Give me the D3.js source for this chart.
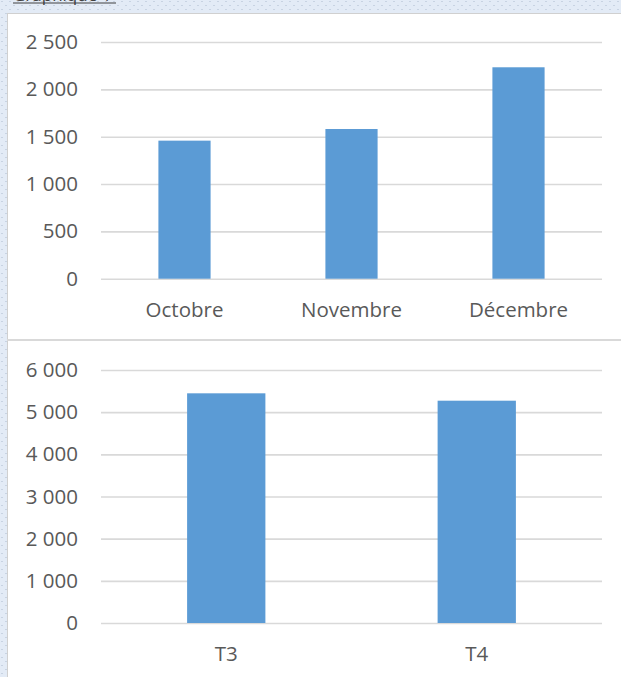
<!DOCTYPE html>
<html>
<head>
<meta charset="utf-8">
<script src="https://cdn.jsdelivr.net/npm/d3@7"></script>
<style>
  html, body { margin: 0; padding: 0; background: #fff; }
  svg { display: block; }
  text { font-family: "Open Sans", "Noto Sans", sans-serif; }
</style>
</head>
<body>
<svg id="chart" width="621" height="677"></svg>
<script>
// ---- Data ----
const monthCategories = ["Octobre", "Novembre", "Décembre"];
const monthValues = [1458, 1581, 2233];
const monthTicks = [0, 500, 1000, 1500, 2000, 2500];

const quarterCategories = ["T3", "T4"];
const quarterValues = [5447, 5272];
const quarterTicks = [0, 1000, 2000, 3000, 4000, 5000, 6000];

const headerText = "Graphique 1";

// ---- Setup ----
const W = 621, H = 677;
const svg = d3.select("#chart");
const locale = d3.formatLocale({ decimal: ",", thousands: " ", grouping: [3], currency: ["", " €"] });
const fmt = locale.format(",d");

// Background dotted pattern
const defs = svg.append("defs");
const pat = defs.append("pattern")
  .attr("id", "dots").attr("width", 8).attr("height", 8)
  .attr("patternUnits", "userSpaceOnUse");
pat.append("rect").attr("width", 8).attr("height", 8).attr("fill", "#e3ebf6");
pat.append("rect").attr("x", 1).attr("y", 1).attr("width", 2).attr("height", 1).attr("fill", "#c8d3e2");
pat.append("rect").attr("x", 5).attr("y", 5).attr("width", 2).attr("height", 1).attr("fill", "#c8d3e2");
svg.append("rect").attr("width", W).attr("height", H).attr("fill", "url(#dots)");

// Header text (cut off at top)
svg.append("text")
  .attr("x", 13).attr("y", 1)
  .attr("font-size", 17)
  .attr("fill", "#404040")
  .text(headerText);
svg.append("line")
  .attr("x1", 13).attr("x2", 116).attr("y1", 3).attr("y2", 3)
  .attr("stroke", "#404040").attr("stroke-width", 1.2);

// White panel
svg.append("rect")
  .attr("x", 7.5).attr("y", 13.5).attr("width", W).attr("height", H)
  .attr("fill", "#ffffff").attr("stroke", "#d0d0d0").attr("stroke-width", 1);

// Separator between the two charts
svg.append("line")
  .attr("x1", 7).attr("x2", W).attr("y1", 340).attr("y2", 340)
  .attr("stroke", "#d9d9d9").attr("stroke-width", 2);

function drawChart(cfg) {
  const g = svg.append("g");
  const x = d3.scaleBand()
    .domain(cfg.categories)
    .range([cfg.left, cfg.right])
    .paddingInner(0.6875)
    .paddingOuter(0.34375);
  const y = d3.scaleLinear()
    .domain([0, d3.max(cfg.ticks)])
    .range([cfg.bottom, cfg.top]);

  // Gridlines + y labels via axis
  const yAxis = d3.axisLeft(y)
    .tickValues(cfg.ticks)
    .tickFormat(fmt)
    .tickSize(-(cfg.right - cfg.left))
    .tickPadding(23);
  const ga = g.append("g")
    .attr("transform", `translate(${cfg.left},0)`)
    .call(yAxis);
  ga.select(".domain").remove();
  ga.selectAll(".tick line")
    .attr("stroke", "#d9d9d9").attr("stroke-width", 1.6);
  ga.selectAll(".tick text")
    .attr("fill", "#595959")
    .attr("font-size", 20.5)
    .style("font-family", "'Open Sans', 'Noto Sans', sans-serif");

  // Bars
  g.selectAll("rect.bar")
    .data(cfg.values)
    .join("rect")
    .attr("class", "bar")
    .attr("x", (d, i) => x(cfg.categories[i]))
    .attr("width", x.bandwidth())
    .attr("y", d => y(d))
    .attr("height", d => y(0) - y(d))
    .attr("fill", "#5b9bd5");

  // X labels
  g.selectAll("text.xlab")
    .data(cfg.categories)
    .join("text")
    .attr("class", "xlab")
    .attr("x", d => x(d) + x.bandwidth() / 2)
    .attr("y", cfg.bottom + cfg.labelOffset)
    .attr("text-anchor", "middle")
    .attr("fill", "#595959")
    .attr("font-size", 20.5)
    .text(d => d);
}

drawChart({
  categories: monthCategories,
  values: monthValues,
  ticks: monthTicks,
  left: 101, right: 602,
  top: 42, bottom: 278.7,
  labelOffset: 38.5
});

drawChart({
  categories: quarterCategories,
  values: quarterValues,
  ticks: quarterTicks,
  left: 101, right: 602,
  top: 370, bottom: 623,
  labelOffset: 37.5
});
</script>
</body>
</html>
